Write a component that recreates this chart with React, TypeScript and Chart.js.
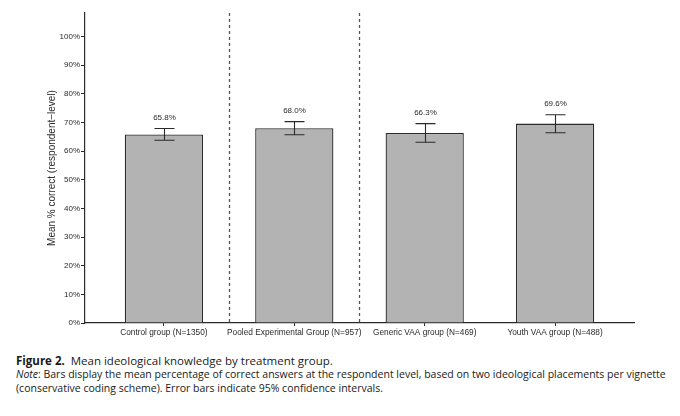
import { useEffect, useRef } from "react";
import Chart from "chart.js/auto";

const groups = [
  "Control group (N=1350)",
  "Pooled Experimental Group (N=957)",
  "Generic VAA group (N=469)",
  "Youth VAA group (N=488)",
];
const means = [65.8, 68.0, 66.3, 69.6];
const ciLow = [63.8, 65.7, 63.1, 66.4];
const ciHigh = [67.9, 70.3, 69.6, 72.7];
const separators = [1.5, 2.5];
const yTicks = [0, 10, 20, 30, 40, 50, 60, 70, 80, 90, 100];

const ink = "#2a2a2a";
const chartFont = "'Liberation Sans', Arial, sans-serif";

const errorBars = {
  id: "errorBars",
  afterDatasetsDraw(chart: any) {
    const { ctx, scales, chartArea } = chart;
    const x = scales.x;
    const y = scales.y;
    ctx.save();

    // dashed separators between groups
    ctx.strokeStyle = "#555";
    ctx.lineWidth = 1.3;
    ctx.setLineDash([3, 3]);
    separators.forEach((s) => {
      const px = Math.round(x.getPixelForValue(s)) + 0.5;
      ctx.beginPath();
      ctx.moveTo(px, chartArea.top);
      ctx.lineTo(px, chartArea.bottom);
      ctx.stroke();
    });
    ctx.setLineDash([]);

    // whiskers + labels
    ctx.strokeStyle = ink;
    ctx.lineWidth = 1.1;
    ctx.fillStyle = ink;
    ctx.font = "8px " + chartFont;
    ctx.textAlign = "center";
    ctx.textBaseline = "middle";
    means.forEach((m, i) => {
      const px = Math.round(x.getPixelForValue(i + 1)) + 0.5;
      const top = y.getPixelForValue(ciHigh[i]);
      const bot = y.getPixelForValue(ciLow[i]);
      ctx.beginPath();
      ctx.moveTo(px, top);
      ctx.lineTo(px, bot);
      ctx.moveTo(px - 10, top);
      ctx.lineTo(px + 10, top);
      ctx.moveTo(px - 10, bot);
      ctx.lineTo(px + 10, bot);
      ctx.stroke();
      ctx.fillText(m.toFixed(1) + "%", px, top - 11);
    });
    ctx.restore();
  },
};

export default function App() {
  const canvasRef = useRef<HTMLCanvasElement | null>(null);

  useEffect(() => {
    document.body.style.margin = "0";
    if (!canvasRef.current) return;
    const chart = new Chart(canvasRef.current, {
      type: "bar",
      data: {
        datasets: [
          {
            data: means.map((m, i) => ({ x: i + 1, y: m })),
            backgroundColor: "#b3b3b3",
            borderColor: ink,
            borderWidth: 1.3,
            barPercentage: 0.6,
            categoryPercentage: 1,
          },
        ],
      },
      options: {
        animation: false,
        responsive: false,
        devicePixelRatio: 1,
        layout: { padding: { top: 13, right: 46, left: 0, bottom: 0 } },
        plugins: {
          legend: { display: false },
          tooltip: { enabled: false },
        },
        scales: {
          x: {
            type: "linear",
            offset: false,
            min: 0.395,
            max: 4.605,
            afterBuildTicks: (scale: any) => {
              scale.ticks = groups.map((_, i) => ({ value: i + 1 }));
            },
            afterFit: (scale: any) => {
              scale.height = 22;
            },
            ticks: {
              autoSkip: false,
              maxRotation: 0,
              padding: 2,
              color: ink,
              font: { family: chartFont, size: 8.3 },
              callback: (v: any) => groups[Math.round(Number(v)) - 1] ?? "",
            },
            grid: { offset: false, drawOnChartArea: false, drawTicks: true, tickLength: 3, color: ink },
            border: { color: ink, width: 1.2 },
          },
          y: {
            min: 0,
            max: 108.2,
            afterBuildTicks: (scale: any) => {
              scale.ticks = yTicks.map((v) => ({ value: v }));
            },
            afterFit: (scale: any) => {
              scale.width = 85;
            },
            ticks: {
              padding: 1,
              color: ink,
              font: { family: chartFont, size: 8 },
              callback: (v: any) => v + "%",
            },
            title: {
              display: true,
              text: "Mean % correct (respondent\u2212level)",
              color: ink,
              font: { family: chartFont, size: 10 },
              padding: { top: 46, bottom: 0 },
            },
            grid: { drawOnChartArea: false, drawTicks: true, tickLength: 4, color: ink },
            border: { color: ink, width: 1.2 },
          },
        },
      },
      plugins: [errorBars],
    });
    return () => chart.destroy();
  }, []);

  const cap: React.CSSProperties = {
    position: "absolute",
    left: 16,
    whiteSpace: "nowrap",
    fontFamily: "'Open Sans', sans-serif",
    color: "#1a1a1a",
  };

  return (
    <div style={{ position: "relative", width: 680, height: 416, background: "#fff" }}>
      <canvas ref={canvasRef} width={680} height={345} style={{ display: "block" }} />
      <div style={{ ...cap, top: 353, fontSize: 11.5 }}>
        <b>Figure 2.</b>&nbsp; Mean ideological knowledge by treatment group.
      </div>
      <div style={{ ...cap, top: 368, fontSize: 10.5, lineHeight: "13.5px" }}>
        <i>Note</i>: Bars display the mean percentage of correct answers at the respondent level, based on two ideological placements per vignette
        <br />
        (conservative coding scheme). Error bars indicate 95% confidence intervals.
      </div>
    </div>
  );
}
